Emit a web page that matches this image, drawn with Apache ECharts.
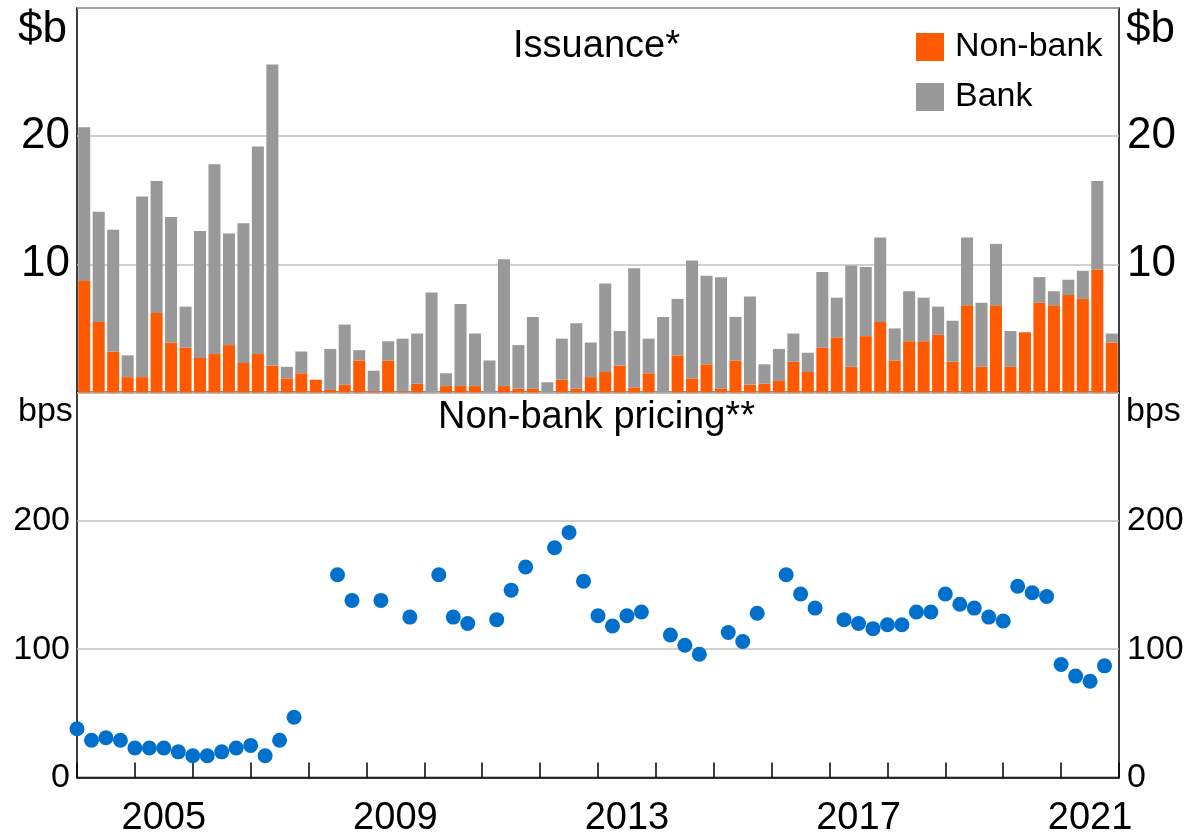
<!DOCTYPE html>
<html><head><meta charset="utf-8">
<script src="https://cdn.jsdelivr.net/npm/echarts@6/dist/echarts.min.js"></script>
<style>html,body{margin:0;padding:0;background:#fff}#c{width:1193px;height:834px}</style>
</head><body><div id="c"></div>
<script>
// Years covered (quarterly data, 2004 Q1 – 2021 Q4)
const years = [2004,2005,2006,2007,2008,2009,2010,2011,2012,2013,2014,2015,2016,2017,2018,2019,2020,2021];
const quarterLabels = [];
years.forEach(y => { for (let q = 1; q <= 4; q++) quarterLabels.push(y + ' Q' + q); });

// Issuance, $b
const nonBank = [8.7,5.5,3.2,1.2, 1.2,6.2,3.9,3.5, 2.7,3.0,3.7,2.3, 3.0,2.1,1.1,1.5,
  1.0,0.2,0.6,2.5, 0.1,2.5,0.1,0.7, 0.0,0.5,0.5,0.5, 0.0,0.5,0.3,0.3,
  0.0,1.0,0.3,1.2, 1.6,2.1,0.4,1.5, 0.0,2.9,1.1,2.2, 0.3,2.5,0.6,0.7,
  0.9,2.4,1.6,3.5, 4.3,2.0,4.4,5.5, 2.5,4.0,4.0,4.5, 2.4,6.8,2.0,6.8,
  2.0,4.7,7.0,6.8, 7.6,7.3,9.6,3.9];
const bank = [12.0,8.6,9.5,1.7, 14.1,10.3,9.8,3.2, 9.9,14.8,8.7,10.9, 16.2,23.5,0.9,1.7,
  0.0,3.2,4.7,0.8, 1.6,1.5,4.1,3.9, 7.8,1.0,6.4,4.1, 2.5,9.9,3.4,5.6,
  0.8,3.2,5.1,2.7, 6.9,2.7,9.3,2.7, 5.9,4.4,9.2,6.9, 8.7,3.4,6.9,1.5,
  2.5,2.2,1.5,5.9, 3.1,7.9,5.4,6.6, 2.5,3.9,3.4,2.2, 3.2,5.3,5.0,4.8,
  2.8,0.0,2.0,1.1, 1.2,2.2,6.9,0.7];

// Non-bank pricing, bps (null = no observation)
const pricing = [38,29,31,29, 23,23,23,20, 17,17,20,23, 25,17,29,47,
  null,null,158,138, null,138,null,125, null,158,125,120, null,123,146,164,
  null,179,191,153, 126,118,126,129, null,111,103,96, null,113,106,128,
  null,158,143,132, null,123,120,116, 119,119,129,129, 143,135,132,125,
  122,149,144,141, 88,79,75,87];

const yLabelsTop = [10, 20];
const yLabelsBottom = [0, 100, 200];
const xLabelYears = [2005, 2009, 2013, 2017, 2021];

const FONT = 'Liberation Sans, Arial, sans-serif';
const FS = 34, FS_BIG = 38, FS_TOP = 44;
const ORANGE = '#ff5a00', GREY = '#999999', BLUE = '#0070cc';

const pricingPoints = [];
pricing.forEach((v, i) => {
  if (v !== null) {
    const [y, q] = quarterLabels[i].split(' Q');
    pricingPoints.push([Number(y) + (Number(q) - 1) / 4, v]);
  }
});

const chart = echarts.init(document.getElementById('c'));
const gridL = 77, gridR = 74;

function yAx(grid, pos, max, labels, split, fs) {
  return {
    type: 'value', gridIndex: grid, position: pos, min: 0, max: max, interval: max / 3,
    axisLine: { show: false }, axisTick: { show: false },
    splitLine: { show: split, lineStyle: { color: '#c0c0c0', width: 1.5 } },
    axisLabel: {
      fontSize: fs, color: '#000', fontFamily: FONT,
      margin: pos === 'left' ? 7 : 8,
      formatter: v => labels.indexOf(v) >= 0 ? String(v) : ''
    }
  };
}

chart.setOption({
  animation: false,
  textStyle: { fontFamily: FONT },
  title: [
    { text: 'Issuance*', left: 'center', top: 23, textStyle: { fontSize: FS_BIG, fontWeight: 'normal', color: '#000', fontFamily: FONT } },
    { text: 'Non-bank pricing**', left: 'center', top: 394, textStyle: { fontSize: FS_BIG, fontWeight: 'normal', color: '#000', fontFamily: FONT } }
  ],
  legend: {
    data: ['Non-bank', 'Bank'], orient: 'vertical', left: 911, top: 25,
    itemWidth: 28, itemHeight: 28, itemGap: 16, icon: 'rect',
    textStyle: { fontSize: FS, color: '#000', fontFamily: FONT, padding: [0, 0, 0, 6] }
  },
  grid: [
    { left: gridL, right: gridR, top: 8, height: 384.5, outerBoundsMode: 'none', containLabel: false,
      show: true, borderColor: '#000', borderWidth: 1.5, backgroundColor: 'transparent' },
    { left: gridL, right: gridR, top: 392.5, height: 385, outerBoundsMode: 'none', containLabel: false,
      show: true, borderColor: '#000', borderWidth: 1.5, backgroundColor: 'transparent' }
  ],
  xAxis: [
    { type: 'category', gridIndex: 0, data: quarterLabels, axisLine: { show: false }, axisTick: { show: false }, axisLabel: { show: false } },
    { type: 'value', gridIndex: 1, min: 2004, max: 2022, interval: 1,
      axisLine: { show: true, lineStyle: { color: '#000', width: 1.5 } },
      axisTick: { show: true, inside: true, length: 15, lineStyle: { color: '#000', width: 1.5 } },
      axisLabel: { show: false }, splitLine: { show: false } },
    { type: 'category', gridIndex: 1, position: 'bottom', data: years.map(String),
      axisLine: { show: false }, axisTick: { show: false },
      axisLabel: { fontSize: FS_BIG, color: '#000', fontFamily: FONT, margin: 22,
        interval: (i, v) => xLabelYears.indexOf(Number(v)) >= 0 } }
  ],
  yAxis: [
    yAx(0, 'left', 30, yLabelsTop, true, FS_TOP),
    yAx(0, 'right', 30, yLabelsTop, false, FS_TOP),
    yAx(1, 'left', 300, yLabelsBottom, true, FS),
    yAx(1, 'right', 300, yLabelsBottom, false, FS)
  ],
  graphic: [
    { type: 'text', left: 18, top: 8, style: { text: '$b', fontSize: FS_TOP, fill: '#000', fontFamily: FONT } },
    { type: 'text', left: 1126, top: 8, style: { text: '$b', fontSize: FS_TOP, fill: '#000', fontFamily: FONT } },
    { type: 'text', left: 18, top: 395, style: { text: 'bps', fontSize: FS, fill: '#000', fontFamily: FONT } },
    { type: 'text', left: 1126, top: 395, style: { text: 'bps', fontSize: FS, fill: '#000', fontFamily: FONT } }
  ],
  series: [
    { name: 'Non-bank', type: 'bar', stack: 'iss', xAxisIndex: 0, yAxisIndex: 0, data: nonBank,
      barCategoryGap: '17%', itemStyle: { color: ORANGE } },
    { name: 'Bank', type: 'bar', stack: 'iss', xAxisIndex: 0, yAxisIndex: 0, data: bank,
      barCategoryGap: '17%', itemStyle: { color: GREY } },
    { name: 'Pricing', type: 'scatter', xAxisIndex: 1, yAxisIndex: 2, data: pricingPoints,
      symbolSize: 15, itemStyle: { color: BLUE, opacity: 1 }, clip: false }
  ]
});
</script></body></html>
